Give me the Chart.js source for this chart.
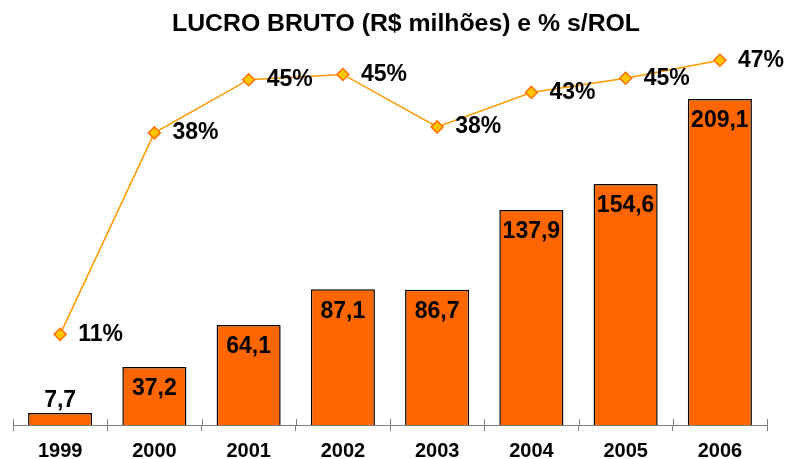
<!DOCTYPE html>
<html>
<head>
<meta charset="utf-8">
<script src="https://cdn.jsdelivr.net/npm/chart.js@4.4.1/dist/chart.umd.min.js"></script>
<style>
  body { margin: 0; background: #fff; }
  #wrap { width: 787px; height: 459px; }
</style>
</head>
<body>
<div id="wrap"><canvas id="grafico" width="787" height="459"></canvas></div>
<script>
const anos = ['1999', '2000', '2001', '2002', '2003', '2004', '2005', '2006'];
const lucroBruto = [7.7, 37.2, 64.1, 87.1, 86.7, 137.9, 154.6, 209.1];
const margemRol = [10.7, 37.6, 44.7, 45.4, 38.4, 43.0, 44.9, 47.3];
const titulo = 'LUCRO BRUTO (R$ milhões) e % s/ROL';

const fonte = '"Liberation Sans", Arial, Helvetica, sans-serif';

// rótulos, título e marcas do eixo
const rotulos = {
  id: 'rotulos',
  beforeDatasetsDraw(chart) {
    const ctx = chart.ctx;
    const x = chart.scales.x;
    ctx.save();
    ctx.strokeStyle = '#7f7f7f';
    ctx.lineWidth = 1;
    for (let i = 0; i <= anos.length; i++) {
      const px = Math.round(x.getPixelForValue(i - 0.5)) + 0.5;
      ctx.beginPath();
      ctx.moveTo(px, x.top - 6);
      ctx.lineTo(px, x.top);
      ctx.stroke();
    }
    ctx.restore();
  },
  afterDatasetsDraw(chart) {
    const ctx = chart.ctx;
    ctx.save();
    ctx.fillStyle = '#000';
    ctx.textBaseline = 'middle';
    ctx.font = 'bold 23px ' + fonte;

    const barras = chart.getDatasetMeta(1).data;
    ctx.textAlign = 'center';
    barras.forEach((bar, i) => {
      const texto = lucroBruto[i].toFixed(1).replace('.', ',');
      const altura = bar.base - bar.y;
      const y = altura < 40 ? bar.y - 12 : bar.y + 22;
      ctx.fillText(texto, bar.x, y);
    });

    const pontos = chart.getDatasetMeta(0).data;
    ctx.textAlign = 'left';
    pontos.forEach((p, i) => {
      ctx.fillText(Math.round(margemRol[i]) + '%', p.x + 18, p.y);
    });

    ctx.font = 'bold 24.8px ' + fonte;
    ctx.textAlign = 'center';
    ctx.fillText(titulo, 406, 24);
    ctx.restore();
  }
};

const grafx = document.getElementById('grafico').getContext('2d');

new Chart(grafx, {
  type: 'bar',
  data: {
    labels: anos,
    datasets: [
      {
        type: 'line',
        label: '% s/ROL',
        data: margemRol,
        yAxisID: 'y1',
        order: 0,
        borderColor: '#ff9900',
        borderWidth: 1.5,
        tension: 0,
        pointStyle: 'rectRot',
        pointRadius: 6,
        pointBackgroundColor: '#ffc600',
        pointBorderColor: '#ff7000',
        pointBorderWidth: 1.5
      },
      {
        label: 'Lucro Bruto',
        data: lucroBruto,
        yAxisID: 'y',
        order: 1,
        backgroundColor: '#ff6600',
        borderColor: '#000',
        borderWidth: 1.5,
        borderSkipped: 'bottom',
        barPercentage: 0.68,
        categoryPercentage: 1
      }
    ]
  },
  options: {
    responsive: false,
    animation: false,
    layout: { padding: { top: 40, left: 13, right: 20, bottom: -12 } },
    plugins: {
      legend: { display: false },
      title: { display: false },
      tooltip: { enabled: false }
    },
    scales: {
      x: {
        offset: true,
        grid: {
          offset: true,
          drawOnChartArea: false,
          drawTicks: true,
          tickLength: 6,
          color: '#7f7f7f'
        },
        border: { display: true, color: '#7f7f7f', width: 1 },
        ticks: {
          color: '#000',
          padding: 10,
          font: { family: fonte, size: 20, weight: 'bold', lineHeight: 1 }
        }
      },
      y: { display: false, min: 0, max: 247 },
      y1: { display: false, min: -1.4, max: 50 }
    }
  },
  plugins: [rotulos]
});
</script>
</body>
</html>
